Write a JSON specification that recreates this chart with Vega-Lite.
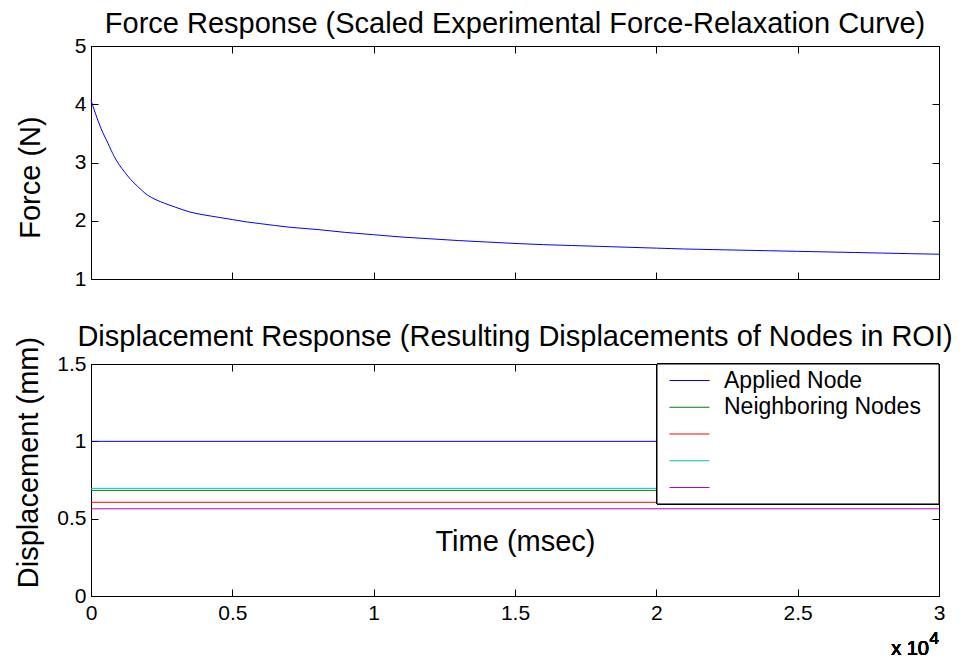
{
  "$schema": "https://vega.github.io/schema/vega-lite/v6.json",
  "background": "white",
  "padding": {"left": 13, "top": 9, "right": 0, "bottom": 0},
  "config": {
    "font": "Liberation Sans",
    "view": {"stroke": "black", "strokeWidth": 1},
    "axis": {
      "grid": false,
      "domainColor": "black",
      "tickColor": "black",
      "labelColor": "black",
      "titleColor": "black",
      "labelFontSize": 21,
      "titleFontSize": 29,
      "titleFontWeight": "normal",
      "tickSize": -7,
      "labelPadding": 12,
      "labelFlush": false
    },
    "title": {
      "fontSize": 29,
      "fontWeight": "normal",
      "color": "black",
      "frame": "group",
      "anchor": "middle",
      "baseline": "alphabetic"
    }
  },
  "datasets": {
    "force": [
      {"t": 0, "F": 4.07}, {"t": 150, "F": 3.85}, {"t": 350, "F": 3.59}, {"t": 600, "F": 3.33},
      {"t": 825, "F": 3.1}, {"t": 1000, "F": 2.96}, {"t": 1200, "F": 2.83}, {"t": 1400, "F": 2.71},
      {"t": 1650, "F": 2.59}, {"t": 2000, "F": 2.44}, {"t": 2300, "F": 2.36}, {"t": 2600, "F": 2.3},
      {"t": 3000, "F": 2.23}, {"t": 3500, "F": 2.15}, {"t": 4000, "F": 2.1}, {"t": 4500, "F": 2.06},
      {"t": 5000, "F": 2.02}, {"t": 5500, "F": 1.98}, {"t": 6000, "F": 1.95}, {"t": 7000, "F": 1.89},
      {"t": 8000, "F": 1.85}, {"t": 9000, "F": 1.8}, {"t": 10000, "F": 1.76}, {"t": 11000, "F": 1.72},
      {"t": 12000, "F": 1.69}, {"t": 13000, "F": 1.66}, {"t": 14000, "F": 1.635}, {"t": 15000, "F": 1.61},
      {"t": 16000, "F": 1.59}, {"t": 17000, "F": 1.575}, {"t": 18000, "F": 1.56}, {"t": 19000, "F": 1.545},
      {"t": 20000, "F": 1.53}, {"t": 21000, "F": 1.515}, {"t": 22000, "F": 1.505}, {"t": 23000, "F": 1.495},
      {"t": 24000, "F": 1.485}, {"t": 25000, "F": 1.475}, {"t": 26000, "F": 1.465}, {"t": 27000, "F": 1.455},
      {"t": 28000, "F": 1.445}, {"t": 29000, "F": 1.435}, {"t": 30000, "F": 1.425}
    ],
    "disp": [
      {"t": 0, "d": 1.0, "series": "Applied Node"},
      {"t": 30000, "d": 1.0, "series": "Applied Node"},
      {"t": 0, "d": 0.683, "series": "Neighboring Nodes"},
      {"t": 30000, "d": 0.683, "series": "Neighboring Nodes"},
      {"t": 0, "d": 0.606, "series": "Node 3"},
      {"t": 30000, "d": 0.606, "series": "Node 3"},
      {"t": 0, "d": 0.696, "series": "Node 4"},
      {"t": 30000, "d": 0.696, "series": "Node 4"},
      {"t": 0, "d": 0.564, "series": "Node 5"},
      {"t": 30000, "d": 0.564, "series": "Node 5"}
    ]
  },
  "spacing": 85,
  "bounds": "flush",
  "vconcat": [
    {
      "width": 848,
      "height": 233,
      "title": {"text": "Force Response (Scaled Experimental Force-Relaxation Curve)", "offset": -4},
      "data": {"name": "force"},
      "resolve": {"axis": {"x": "independent", "y": "independent"}},
      "layer": [
        {
          "mark": {"type": "line", "color": "#0000FF", "strokeWidth": 1, "interpolate": "monotone"},
          "encoding": {
            "x": {
              "field": "t", "type": "quantitative",
              "scale": {"domain": [0, 30000], "nice": false, "zero": false},
              "axis": {"orient": "bottom", "values": [0, 5000, 10000, 15000, 20000, 25000, 30000], "labels": false, "title": null}
            },
            "y": {
              "field": "F", "type": "quantitative",
              "scale": {"domain": [1, 5], "nice": false, "zero": false},
              "axis": {
                "orient": "left", "values": [1, 2, 3, 4, 5], "title": "Force (N)",
                "titleAngle": -90, "titleX": -61, "titleY": 131, "titleAlign": "center", "titleBaseline": "middle"
              }
            }
          }
        },
        {
          "mark": {"type": "line", "opacity": 0},
          "encoding": {
            "x": {
              "field": "t", "type": "quantitative",
              "axis": {"orient": "top", "values": [0, 5000, 10000, 15000, 20000, 25000, 30000], "labels": false, "title": null}
            },
            "y": {
              "field": "F", "type": "quantitative",
              "axis": {"orient": "right", "values": [1, 2, 3, 4, 5], "labels": false, "title": null}
            }
          }
        }
      ]
    },
    {
      "width": 848,
      "height": 232,
      "title": {"text": "Displacement Response (Resulting Displacements of Nodes in ROI)", "offset": -16},
      "data": {"name": "disp"},
      "resolve": {"axis": {"x": "independent", "y": "independent"}},
      "layer": [
        {
          "mark": {"type": "line", "strokeWidth": 1},
          "encoding": {
            "x": {
              "field": "t", "type": "quantitative",
              "scale": {"domain": [0, 30000], "nice": false, "zero": false},
              "axis": {
                "orient": "bottom", "values": [0, 5000, 10000, 15000, 20000, 25000, 30000],
                "labelExpr": "toString(datum.value / 10000)", "labelPadding": 13,
                "title": "Time (msec)", "titleY": -46, "titleBaseline": "alphabetic"
              }
            },
            "y": {
              "field": "d", "type": "quantitative",
              "scale": {"domain": [0, 1.5], "nice": false, "zero": false},
              "axis": {
                "orient": "left", "values": [0, 0.5, 1, 1.5], "labelExpr": "toString(datum.value)",
                "title": "Displacement (mm)",
                "titleAngle": -90, "titleX": -63, "titleY": 98, "titleAlign": "center", "titleBaseline": "middle"
              }
            },
            "color": {
              "field": "series", "type": "nominal",
              "scale": {
                "domain": ["Applied Node", "Neighboring Nodes", "Node 3", "Node 4", "Node 5"],
                "range": ["#0000FF", "#008000", "#FF0000", "#00BFBF", "#BF00BF"]
              },
              "legend": {
                "orient": "none", "legendX": 566, "legendY": 318, "title": null,
                "padding": 5,
                "symbolType": "stroke", "symbolSize": 1600, "symbolStrokeWidth": 1,
                "symbolOffset": 7, "labelOffset": 14, "labelFontSize": 23, "labelColor": "black",
                "labelLimit": 400, "clipHeight": 23, "rowPadding": 2.75,
                "labelExpr": "datum.label == 'Neighboring Nodes' || datum.label == 'Applied Node' ? datum.label : ''"
              }
            }
          }
        },
        {
          "mark": {"type": "line", "opacity": 0},
          "encoding": {
            "x": {
              "field": "t", "type": "quantitative",
              "axis": {"orient": "top", "values": [0, 5000, 10000, 15000, 20000, 25000, 30000], "labels": false, "title": null}
            },
            "y": {
              "field": "d", "type": "quantitative",
              "axis": {"orient": "right", "values": [0, 0.5, 1, 1.5], "labels": false, "title": null}
            },
            "detail": {"field": "series", "type": "nominal"}
          }
        },
        {
          "mark": {"type": "rect", "fill": "white", "stroke": "black", "strokeWidth": 1},
          "encoding": {
            "x": {"datum": 20024, "type": "quantitative", "axis": null},
            "x2": {"datum": 30000},
            "y": {"datum": 1.5, "type": "quantitative", "axis": null},
            "y2": {"datum": 0.595}
          }
        },
        {
          "mark": {"type": "text", "text": "x 10", "align": "right", "baseline": "alphabetic", "fontSize": 20, "fontWeight": "normal", "dx": -10, "dy": 59, "color": "black"},
          "encoding": {
            "x": {"datum": 30000, "type": "quantitative", "axis": null},
            "y": {"datum": 0, "type": "quantitative", "axis": null}
          }
        },
        {
          "mark": {"type": "text", "text": "4", "align": "right", "baseline": "alphabetic", "fontSize": 17, "fontWeight": "normal", "dx": 0, "dy": 48, "color": "black"},
          "encoding": {
            "x": {"datum": 30000, "type": "quantitative", "axis": null},
            "y": {"datum": 0, "type": "quantitative", "axis": null}
          }
        }
      ]
    }
  ]
}
